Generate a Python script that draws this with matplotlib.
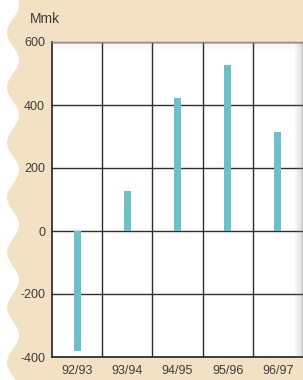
import numpy as np
import matplotlib.pyplot as plt
from matplotlib.patches import Polygon, Rectangle

plt.rcParams['font.family'] = ['Liberation Sans', 'DejaVu Sans']
plt.rcParams['axes.unicode_minus'] = False

# data
seasons = ['92/93', '93/94', '94/95', '95/96', '96/97']
values = [-382, 127, 422, 527, 314]
yticks = [-400, -200, 0, 200, 400, 600]

W, H = 303, 380
fig = plt.figure(figsize=(W / 100, H / 100), dpi=100)
fig.patch.set_facecolor('white')

# beige paper with a wavy left edge
ys = np.linspace(0, H, 200)
xs = 13 + 6 * np.sin(2 * np.pi * ys / 55 + 1.0)
pts = [(x / W, 1 - y / H) for x, y in zip(xs, ys)]
pts = pts + [(1, 0), (1, 1)]
fig.patches.append(Polygon(pts, closed=True, transform=fig.transFigure,
                           facecolor='#f2e2c3', edgecolor='none', zorder=0))

ax = fig.add_axes([52 / W, (H - 357) / H, (W - 52) / W, (357 - 42) / H])
ax.set_facecolor('white')
ax.set_zorder(1)

x = np.arange(len(seasons))
ax.bar(x, values, width=0.14, color='#6cc1c8', zorder=3)

ax.set_xlim(-0.5, -0.5 + (W - 52) / 51)
ax.set_ylim(-400, 600)
ax.set_yticks(yticks)
ax.set_xticks(x)
ax.set_xticklabels(seasons)
ax.set_xticks(np.arange(len(seasons)) + 0.5, minor=True)

ax.grid(True, which='major', axis='y', color='#2e2e2e', linewidth=1.0, zorder=1)
ax.grid(True, which='minor', axis='x', color='#2e2e2e', linewidth=1.0, zorder=1)
ax.tick_params(which='both', length=0)
ax.tick_params(axis='both', labelsize=9, labelcolor='#3d3d3d')
ax.tick_params(axis='x', pad=6)
ax.tick_params(axis='y', pad=5)

for s in ['left', 'bottom']:
    ax.spines[s].set_color('#222222')
    ax.spines[s].set_linewidth(1.2)
ax.spines['right'].set_visible(False)
ax.spines['top'].set_color('#8a8a8a')
ax.spines['top'].set_linewidth(1.0)

# soft shadows along the top and right of the panel
for i in range(8):
    a = 0.10 * (1 - i / 8)
    fig.patches.append(Rectangle(((W - 8 + i) / W, 23 / H), 1 / W, (357 - 42) / H,
                                 transform=fig.transFigure, facecolor='#808080',
                                 alpha=0.05 + i * 0.03, edgecolor='none', zorder=5))
    fig.patches.append(Rectangle((52 / W, (H - 43 - i) / H), (W - 52) / W, 1 / H,
                                 transform=fig.transFigure, facecolor='#808080',
                                 alpha=a, edgecolor='none', zorder=5))

fig.text(30 / W, 1 - 19 / H, 'Mmk', fontsize=10, color='#3d3d3d',
         ha='left', va='center')

fig.savefig('out.png', dpi=100)
